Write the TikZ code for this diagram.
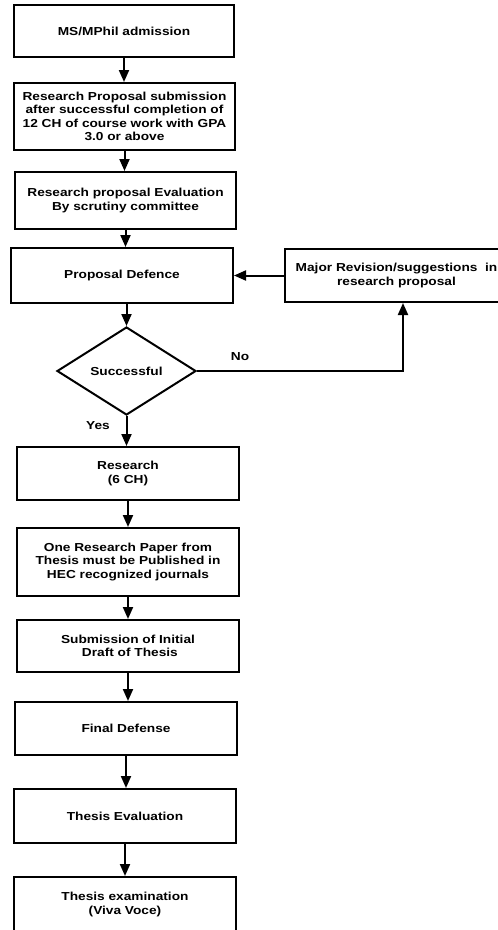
\documentclass[tikz,border=0pt]{standalone}
\usepackage{fontspec}
\setmainfont[FakeStretch=1.18]{Liberation Sans}
\usetikzlibrary{shapes.geometric,arrows.meta}
\begin{document}
\begin{tikzpicture}[x=1pt,y=-1pt,
  txt/.style={font=\bfseries\fontsize{11.6}{13.3}\selectfont},
  box/.style={txt, draw, line width=2pt, align=center, inner sep=0pt},
  dec/.style={txt, draw, line width=2pt, shape=diamond, aspect=1.58, inner sep=0pt},
  arr/.style={line width=2pt, -{Triangle[width=10pt,length=12pt]}}]
\useasboundingbox (0,0) rectangle (498,930);
\fill[white] (0,0) rectangle (498,930);
\clip (0,0) rectangle (498,930);
\node[box, minimum width=220pt, minimum height=52pt] (n1) at (124,31) {MS/MPhil admission};
\node[box, minimum width=221pt, minimum height=67pt] (n2) at (124.5,116.5) {Research Proposal submission\\after successful completion of\\12 CH of course work with GPA\\3.0 or above};
\node[box, minimum width=221pt, minimum height=57pt] (n3) at (125.5,200.5) {Research proposal Evaluation\\By scrutiny committee};
\node[box, minimum width=222pt, minimum height=55pt] (n4) at (122,275.5) {Proposal Defence};
\node[box, minimum width=223pt, minimum height=53pt] (mj) at (396.5,275.5) {Major Revision/suggestions\ \ in\\research proposal};
\node[dec, minimum width=139pt, minimum height=88pt] (dia) at (126.5,371) {Successful};
\node[box, minimum width=222pt, minimum height=53pt] (n5) at (128,473.5) {Research\\(6 CH)};
\node[box, minimum width=222pt, minimum height=68pt] (n6) at (128,562) {One Research Paper from\\Thesis must be Published in\\HEC recognized journals};
\node[box, minimum width=222pt, minimum height=52pt] (n7) at (128,646) {Submission of Initial\\\ Draft of Thesis};
\node[box, minimum width=222pt, minimum height=53pt] (n8) at (126,728.5) {Final Defense};
\node[box, minimum width=222pt, minimum height=54pt] (n9) at (125,816) {Thesis Evaluation};
\node[box, minimum width=222pt, minimum height=55pt] (n10) at (125,904.5) {Thesis examination\\(Viva Voce)};
\node[txt] (no) at (240,357) {No};
\node[txt] (yes) at (98,426) {Yes};
\draw[arr] (n1.south) -- (n1.south |- n2.north);
\draw[arr] (n2.south) -- (n2.south |- n3.north);
\draw[arr] (n3.south) -- (n3.south |- n4.north);
\draw[arr] (dia.north |- n4.south) -- (dia.north);
\draw[arr] (mj.west) -- (n4.east);
\draw[arr] (dia.east) -| ([xshift=6.5pt]mj.south);
\draw[arr] (dia.south) -- (dia.south |- n5.north);
\draw[arr] (n5.south) -- (n5.south |- n6.north);
\draw[arr] (n6.south) -- (n6.south |- n7.north);
\draw[arr] (n7.south) -- (n7.south |- n8.north);
\draw[arr] (n8.south) -- (n8.south |- n9.north);
\draw[arr] (n9.south) -- (n9.south |- n10.north);
\end{tikzpicture}
\end{document}
